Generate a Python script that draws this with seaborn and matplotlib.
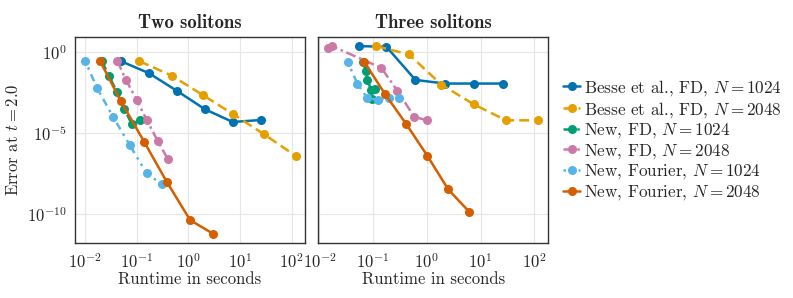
import numpy as np
import pandas as pd
import matplotlib
matplotlib.use("Agg")
import matplotlib.pyplot as plt
import matplotlib.ticker as mticker
import seaborn as sns

# ---------------- data ----------------
series_names = [
    "Besse et al., FD, $N = 1024$",
    "Besse et al., FD, $N = 2048$",
    "New, FD, $N = 1024$",
    "New, FD, $N = 2048$",
    "New, Fourier, $N = 1024$",
    "New, Fourier, $N = 2048$",
]
panel_titles = ["Two solitons", "Three solitons"]

# Two solitons
two_besse1024_t = [0.0498, 0.173, 0.604, 2.10, 7.21, 25.5]
two_besse1024_e = [0.265, 0.0482, 3.92e-3, 2.89e-4, 4.78e-5, 6.34e-5]
two_besse2048_t = [0.113, 0.475, 1.89, 7.43, 29.2, 118.0]
two_besse2048_e = [0.265, 0.0346, 2.22e-3, 1.42e-4, 8.28e-6, 3.99e-7]
two_fd1024_t = [0.0210, 0.0292, 0.0416, 0.0577, 0.0813, 0.114]
two_fd1024_e = [0.290, 0.0346, 3.40e-3, 3.03e-4, 3.43e-5, 6.34e-5]
two_fd2048_t = [0.0422, 0.0622, 0.100, 0.156, 0.255, 0.404]
two_fd2048_e = [0.290, 0.0187, 1.14e-3, 6.65e-5, 3.37e-6, 2.37e-7]
two_four1024_t = [0.0101, 0.0173, 0.0353, 0.0743, 0.156, 0.309]
two_four1024_e = [0.290, 5.71e-3, 9.73e-5, 1.73e-6, 3.40e-8, 6.78e-9]
two_four2048_t = [0.0195, 0.0490, 0.141, 0.386, 1.09, 3.05]
two_four2048_e = [0.290, 9.91e-4, 2.78e-6, 9.44e-9, 4.27e-11, 6.17e-12]

# Three solitons
three_besse1024_t = [0.0547, 0.177, 0.611, 2.15, 7.43, 26.1]
three_besse1024_e = [2.24, 2.04, 0.0187, 0.0111, 0.0111, 0.0111]
three_besse2048_t = [0.115, 0.466, 1.86, 7.43, 29.7, 115.0]
three_besse2048_e = [2.24, 0.684, 9.64e-3, 5.89e-4, 6.05e-5, 6.05e-5]
three_fd1024_t = [0.0659, 0.0728, 0.0782, 0.0914, 0.109, 0.0968]
three_fd1024_e = [0.230, 0.0641, 0.0178, 4.73e-3, 5.20e-3, 1.26e-3]
three_fd2048_t = [0.0147, 0.0172, 0.142, 0.282, 0.585, 1.02]
three_fd2048_e = [1.61, 2.24, 0.103, 4.10e-3, 9.73e-5, 6.05e-5]
three_four1024_t = [0.0337, 0.0509, 0.0782, 0.123, 0.198, 0.308]
three_four1024_e = [0.230, 0.0111, 1.38e-3, 1.14e-3, 1.45e-3, 1.45e-3]
three_four2048_t = [0.0687, 0.164, 0.409, 1.02, 2.48, 6.08]
three_four2048_e = [0.241, 2.68e-3, 3.77e-5, 3.99e-7, 3.49e-9, 1.46e-10]

two_data = [
    (two_besse1024_t, two_besse1024_e), (two_besse2048_t, two_besse2048_e),
    (two_fd1024_t, two_fd1024_e), (two_fd2048_t, two_fd2048_e),
    (two_four1024_t, two_four1024_e), (two_four2048_t, two_four2048_e),
]
three_data = [
    (three_besse1024_t, three_besse1024_e), (three_besse2048_t, three_besse2048_e),
    (three_fd1024_t, three_fd1024_e), (three_fd2048_t, three_fd2048_e),
    (three_four1024_t, three_four1024_e), (three_four2048_t, three_four2048_e),
]

colors = ["#0072B2", "#E69F00", "#009E73", "#CC79A7", "#56B4E9", "#D55E00"]
dashes = ["", (4, 2), (4, 1.5, 1, 1.5), (4, 1.5, 1, 1.5), (1, 2, 1, 2, 3, 2), ""]

def frame(data):
    rows = []
    for name, (t, e) in zip(series_names, data):
        for i, (ti, ei) in enumerate(zip(t, e)):
            rows.append({"series": name, "order": i, "t": ti, "e": ei})
    return pd.DataFrame(rows)

# ---------------- style ----------------
sns.set_style("white")
plt.rcParams["font.family"] = ["cmr10", "DejaVu Serif"]
plt.rcParams["mathtext.fontset"] = "cm"
plt.rcParams["axes.formatter.use_mathtext"] = True
plt.rcParams["axes.unicode_minus"] = True

fig = plt.figure(figsize=(7.93, 2.98), dpi=100)
W, H = 793, 298
def add_ax(x0, x1, y0, y1):
    return fig.add_axes([x0 / W, 1 - y1 / H, (x1 - x0) / W, (y1 - y0) / H])

ax1 = add_ax(75, 305, 36.7, 243.3)
ax2 = add_ax(318.3, 548.3, 36.7, 243.3)

palette = dict(zip(series_names, colors))
dash_map = dict(zip(series_names, dashes))
marker_map = {n: "o" for n in series_names}

for ax, data, title in [(ax1, two_data, panel_titles[0]), (ax2, three_data, panel_titles[1])]:
    df = frame(data)
    sns.lineplot(data=df, x="t", y="e", hue="series", style="series",
                 palette=palette, dashes=dash_map, markers=marker_map,
                 hue_order=series_names, style_order=series_names,
                 sort=False, estimator=None, units="series",
                 ax=ax, linewidth=1.8, markersize=6.5, markeredgewidth=0,
                 legend=(ax is ax1))
    ax.set_xscale("log")
    ax.set_yscale("log")
    ax.set_ylim(10 ** -11.79, 10 ** 0.93)
    ax.xaxis.set_minor_locator(mticker.NullLocator())
    ax.yaxis.set_major_locator(mticker.FixedLocator([1e-10, 1e-5, 1e0]))
    ax.yaxis.set_minor_locator(mticker.NullLocator())
    ax.grid(True, color="#e6e6e6", linewidth=0.8)
    ax.set_axisbelow(True)
    for sp in ax.spines.values():
        sp.set_color("#333333")
        sp.set_linewidth(1.0)
    ax.tick_params(axis="both", direction="out", length=4, width=0.8,
                   color="#333333", labelsize=12, pad=2)
    ax.set_title(title, fontsize=13.5, fontweight="bold", family=["cmb10", "DejaVu Serif"], pad=6)
    ax.set_xlabel("Runtime in seconds", fontsize=12, labelpad=1)
    ax.set_ylabel("")

ax1.set_xlim(10 ** -2.19, 10 ** 2.255)
ax2.set_xlim(10 ** -2.02, 10 ** 2.26)
ax1.xaxis.set_major_locator(mticker.FixedLocator([1e-2, 1e-1, 1e0, 1e1, 1e2]))
ax2.xaxis.set_major_locator(mticker.FixedLocator([1e-2, 1e-1, 1e0, 1e1, 1e2]))
ax1.set_ylabel("Error at $t = 2.0$", fontsize=12, labelpad=4)
ax2.tick_params(axis="y", left=False, labelleft=False)

handles, labels = ax1.get_legend_handles_labels()
ax1.get_legend().remove()
fig.legend(handles, labels, loc="center left", bbox_to_anchor=(563 / W, 1 - 140 / H),
           frameon=False, fontsize=12.3, handlelength=1.0, handletextpad=0.2,
           labelspacing=0.1, borderaxespad=0, borderpad=0)

fig.savefig("out.png", dpi=100)
